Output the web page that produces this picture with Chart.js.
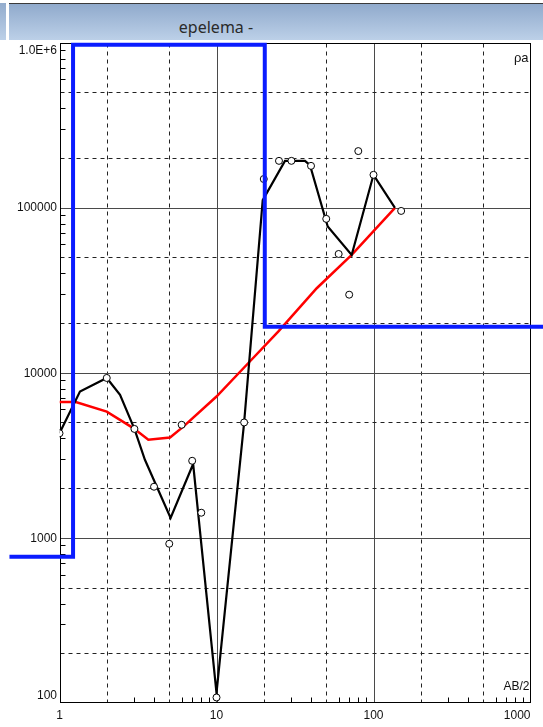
<!DOCTYPE html>
<html><head><meta charset="utf-8">
<script src="https://cdn.jsdelivr.net/npm/chart.js@4.4.1/dist/chart.umd.min.js"></script>
<style>
html,body{margin:0;padding:0;background:#fff;width:543px;height:727px;overflow:hidden;position:relative}
#bandL{position:absolute;left:0;top:3px;width:6px;height:37px;background:linear-gradient(to bottom,#93accd,#bcd0e8)}
#bandR{position:absolute;left:9px;top:3px;width:534px;height:37px;background:linear-gradient(to bottom,#90aacc,#bcd0e8);border-top:1px solid #3a3a3a;box-sizing:border-box}
#title{position:absolute;left:0;top:17px;width:432px;text-align:center;font:16px "Noto Sans",sans-serif;line-height:20px;color:#2a2a2a}
canvas{position:absolute;left:0;top:0}
</style></head>
<body>
<div id="bandL"></div><div id="bandR"></div>
<div id="title">epelema -</div>
<canvas id="c" width="543" height="727"></canvas>
<script>
// Measured apparent resistivity (circles)
const measuredAB  = [1, 2, 3, 4, 5, 6, 7, 8, 10, 15, 20, 25, 30, 40, 50, 60, 70, 80, 100, 150];
const measuredRho = [4300, 9300, 4570, 2040, 921, 4840, 2930, 1420, 108, 5000, 149000, 192000, 192000, 179000, 85500, 52400, 29700, 220000, 158000, 95500];
// Field curve (black)
const fieldAB  = [1, 1.35, 2, 2.43, 3, 3.5, 5.1, 7.1, 10, 15, 19.7, 27.3, 36.6, 39.4, 51.1, 72.6, 100, 137];
const fieldRho = [4300, 7700, 9300, 7350, 4570, 2970, 1320, 2800, 115, 5000, 111000, 192000, 192000, 181000, 76800, 51700, 158000, 99600];
// Computed curve (red)
const calcAB  = [1, 1.27, 2, 2.95, 3.68, 5.06, 6.15, 10, 16.3, 24.8, 43.5, 72.6, 137];
const calcRho = [6640, 6650, 5820, 4620, 3925, 4050, 4720, 7180, 11700, 17800, 32500, 51700, 99600];
// Layer model (blue step)
const modelAB  = [0.48, 1.22, 1.22, 20.3, 20.3, 1250];
const modelRho = [769, 769, 970000, 970000, 19000, 19000];
// Axis ticks
const xTickLabels = ["1", "10", "100", "1000"];
const xTickValues = [1, 10, 100, 1000];
const yTickLabels = ["100", "1000", "10000", "100000", "1.0E+6"];
const yTickValues = [100, 1000, 10000, 100000, 1000000];
const xAxisTitle = "AB/2";
const yAxisTitle = "\u03c1a";

const pts = (xs, ys) => xs.map((x, i) => ({x: x, y: ys[i]}));

const gridPlugin = {
  id: 'gridPlugin',
  beforeDatasetsDraw(chart) {
    const ctx = chart.ctx, a = chart.chartArea;
    const xs = chart.scales.x, ys = chart.scales.y;
    const L = Math.round(a.left) + 0.5, R = Math.round(a.right) - 0.5;
    const T = Math.round(a.top) + 0.5, B = Math.round(a.bottom) - 0.5;
    ctx.save();
    ctx.lineWidth = 1;
    for (let k = 0; k < 3; k++) {
      for (let m = 1; m <= 9; m++) {
        const v = m * Math.pow(10, k);
        if (v <= 1) continue;
        const p = Math.round(xs.getPixelForValue(v)) + 0.5;
        if (m === 1) {
          ctx.setLineDash([]); ctx.strokeStyle = '#4a4a4a';
          ctx.beginPath(); ctx.moveTo(p, T); ctx.lineTo(p, B); ctx.stroke();
        } else if (m === 2 || m === 5) {
          ctx.setLineDash([4, 4]); ctx.strokeStyle = '#222';
          ctx.beginPath(); ctx.moveTo(p, T); ctx.lineTo(p, B); ctx.stroke();
        } else {
          ctx.setLineDash([]); ctx.strokeStyle = '#000';
          ctx.beginPath(); ctx.moveTo(p, B); ctx.lineTo(p, B - 5); ctx.stroke();
        }
      }
    }
    for (let k = 2; k < 6; k++) {
      for (let m = 1; m <= 9; m++) {
        const v = m * Math.pow(10, k);
        if (v <= 100) continue;
        const p = Math.round(ys.getPixelForValue(v)) + 0.5;
        if (m === 1) {
          ctx.setLineDash([]); ctx.strokeStyle = '#4a4a4a';
          ctx.beginPath(); ctx.moveTo(L, p); ctx.lineTo(R, p); ctx.stroke();
        } else if (m === 2 || m === 5) {
          ctx.setLineDash([4, 4]); ctx.strokeStyle = '#222';
          ctx.beginPath(); ctx.moveTo(L, p); ctx.lineTo(R, p); ctx.stroke();
        } else {
          ctx.setLineDash([]); ctx.strokeStyle = '#000';
          ctx.beginPath(); ctx.moveTo(L, p); ctx.lineTo(L + 5, p); ctx.stroke();
        }
      }
    }
    ctx.setLineDash([]); ctx.strokeStyle = '#000';
    ctx.strokeRect(L, T, R - L, B - T);
    ctx.restore();
  },
  afterDraw(chart) {
    const ctx = chart.ctx, a = chart.chartArea;
    const xs = chart.scales.x, ys = chart.scales.y;
    ctx.save();
    ctx.fillStyle = '#111';
    ctx.font = '12px "Liberation Sans", Arial, sans-serif';
    ctx.textBaseline = 'middle';
    xTickValues.forEach((v, i) => {
      const p = xs.getPixelForValue(v);
      ctx.textAlign = (i === xTickValues.length - 1) ? 'right' : 'center';
      ctx.fillText(xTickLabels[i], p, 716);
    });
    ctx.textAlign = 'right';
    yTickValues.forEach((v, i) => {
      let p = ys.getPixelForValue(v);
      if (i === yTickValues.length - 1) { ctx.textBaseline = 'top'; p += 2; }
      else if (i === 0) { ctx.textBaseline = 'bottom'; p -= 2; }
      else ctx.textBaseline = 'middle';
      ctx.fillText(yTickLabels[i], a.left - 2.5, p + 0.5);
    });
    ctx.textAlign = 'right';
    ctx.textBaseline = 'alphabetic';
    ctx.fillText(xAxisTitle, a.right - 1, a.bottom - 13);
    ctx.font = '13px "Liberation Sans", Arial, sans-serif';
    ctx.fillText(yAxisTitle, a.right - 2, a.top + 19);
    ctx.restore();
  }
};

new Chart(document.getElementById('c'), {
  type: 'scatter',
  data: {
    datasets: [
      { label: 'model', data: pts(modelAB, modelRho), showLine: true, borderColor: '#0a1cff', borderWidth: 4,
        pointRadius: 0, tension: 0, order: 0, clip: {left: 60, top: 5, right: 20, bottom: 5},
        borderJoinStyle: 'miter', borderCapStyle: 'butt' },
      { label: 'measured', data: pts(measuredAB, measuredRho), showLine: false, pointRadius: 3.5,
        pointBackgroundColor: '#fff', pointBorderColor: '#000', pointBorderWidth: 1, order: 1 },
      { label: 'field', data: pts(fieldAB, fieldRho), showLine: true, borderColor: '#000', borderWidth: 2.2,
        pointRadius: 0, tension: 0, order: 2 },
      { label: 'calc', data: pts(calcAB, calcRho), showLine: true, borderColor: '#ff0000', borderWidth: 2.5,
        pointRadius: 0, tension: 0, order: 3 }
    ]
  },
  options: {
    responsive: false,
    animation: false,
    devicePixelRatio: 1,
    layout: { padding: { left: 59.5, right: 12.5, top: 42.5, bottom: 24 } },
    plugins: { legend: { display: false }, tooltip: { enabled: false }, title: { display: false } },
    scales: {
      x: { type: 'logarithmic', min: 1, max: 1000, display: false },
      y: { type: 'logarithmic', min: 100, max: 1000000, display: false }
    }
  },
  plugins: [gridPlugin]
});
</script>
</body></html>
